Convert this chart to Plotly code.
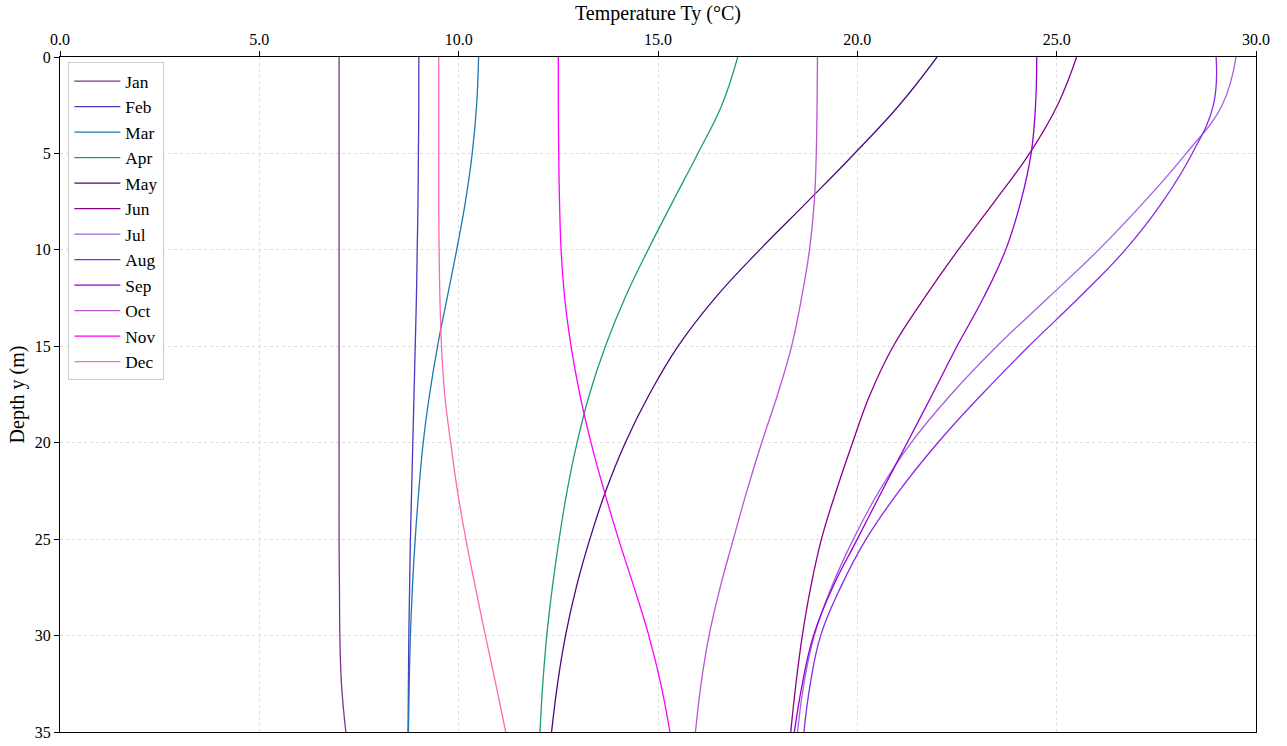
import plotly.graph_objects as go

depths = [0, 2.5, 5, 7.5, 10, 12.5, 15, 17.5, 20, 22.5, 25, 27.5, 30, 32.5, 35]

months = ["Jan", "Feb", "Mar", "Apr", "May", "Jun", "Jul", "Aug", "Sep", "Oct", "Nov", "Dec"]

jan = [7.0, 7.0, 7.0, 7.0, 7.0, 7.0, 7.0, 7.0, 7.0, 7.0, 7.0, 7.01, 7.02, 7.06, 7.17]
feb = [9.0, 9.0, 8.99, 8.98, 8.96, 8.94, 8.91, 8.88, 8.85, 8.82, 8.79, 8.77, 8.75, 8.74, 8.73]
mar = [10.5, 10.45, 10.34, 10.17, 9.95, 9.71, 9.47, 9.27, 9.11, 9.0, 8.91, 8.84, 8.79, 8.76, 8.74]
apr = [17.0, 16.6, 16.0, 15.37, 14.75, 14.17, 13.68, 13.28, 12.97, 12.72, 12.52, 12.35, 12.21, 12.11, 12.04]
may = [22.0, 21.05, 19.93, 18.75, 17.55, 16.43, 15.5, 14.78, 14.18, 13.69, 13.29, 12.95, 12.68, 12.48, 12.33]
jun = [25.5, 25.02, 24.32, 23.44, 22.53, 21.68, 20.9, 20.32, 19.88, 19.47, 19.1, 18.83, 18.62, 18.46, 18.33]
jul = [29.5, 29.15, 28.25, 27.2, 26.05, 24.78, 23.5, 22.35, 21.35, 20.55, 19.9, 19.35, 18.92, 18.66, 18.5]
aug = [29.0, 28.93, 28.4, 27.66, 26.72, 25.55, 24.3, 23.12, 22.02, 21.05, 20.22, 19.58, 19.08, 18.82, 18.66]
sep = [24.5, 24.47, 24.36, 24.1, 23.72, 23.16, 22.5, 21.88, 21.25, 20.62, 20.0, 19.38, 18.9, 18.62, 18.42]
oct_ = [19.0, 18.99, 18.97, 18.92, 18.8, 18.6, 18.35, 18.0, 17.6, 17.23, 16.89, 16.56, 16.28, 16.08, 15.94]
nov = [12.5, 12.5, 12.51, 12.53, 12.57, 12.66, 12.82, 13.04, 13.32, 13.65, 14.01, 14.4, 14.77, 15.07, 15.3]
dec = [9.5, 9.5, 9.5, 9.5, 9.51, 9.53, 9.57, 9.65, 9.8, 9.97, 10.18, 10.42, 10.67, 10.93, 11.18]

series = [jan, feb, mar, apr, may, jun, jul, aug, sep, oct_, nov, dec]
colors = ["#7b3294", "#4a3bc4", "#1f77b4", "#1b9e77", "#4b0a82", "#8b008b",
          "#a55fe0", "#8a2be2", "#9400d3", "#ba55d3", "#ff00ff", "#ff69b4"]

x_ticks = [0, 5, 10, 15, 20, 25, 30]
y_ticks = [0, 5, 10, 15, 20, 25, 30, 35]

fig = go.Figure()
for name, vals, col in zip(months, series, colors):
    fig.add_trace(go.Scatter(
        x=vals, y=depths, mode="lines", name=name,
        line=dict(color=col, width=1.3, shape="spline", smoothing=1.2),
    ))

font_family = "Liberation Serif, Times New Roman, serif"
fig.update_layout(
    width=1287, height=746,
    margin=dict(l=60, r=31, t=57, b=14),
    paper_bgcolor="white", plot_bgcolor="white",
    font=dict(family=font_family, size=16, color="black"),
    showlegend=True,
    legend=dict(
        x=0.007, y=0.992, xanchor="left", yanchor="top",
        bgcolor="rgba(255,255,255,0.85)", bordercolor="#cccccc", borderwidth=1,
        font=dict(family=font_family, size=17.3), tracegroupgap=0,
        itemwidth=46,
    ),
)
fig.update_xaxes(
    side="top", range=[0, 30], tickvals=x_ticks,
    ticktext=[f"{v:.1f}" for v in x_ticks],
    title=dict(text="Temperature Ty (°C)", font=dict(size=20), standoff=4),
    showgrid=True, gridcolor="#dddddd", griddash="dot", gridwidth=1,
    showline=True, linecolor="black", linewidth=1, mirror=True,
    ticks="outside", ticklen=5, tickcolor="black", zeroline=False,
    tickfont=dict(size=16), automargin=False,
)
fig.update_yaxes(
    range=[35, 0], tickvals=y_ticks, ticktext=[str(v) for v in y_ticks],
    title=dict(text="Depth y (m)", font=dict(size=20), standoff=4),
    showgrid=True, gridcolor="#dddddd", griddash="dot", gridwidth=1,
    showline=True, linecolor="black", linewidth=1, mirror=True,
    ticks="outside", ticklen=5, tickcolor="black", zeroline=False,
    tickfont=dict(size=16), automargin=False,
)

fig.write_html(
    "out.html",
    config={"displayModeBar": False},
    post_script="document.body.style.margin='0';document.body.style.overflow='hidden';",
)
